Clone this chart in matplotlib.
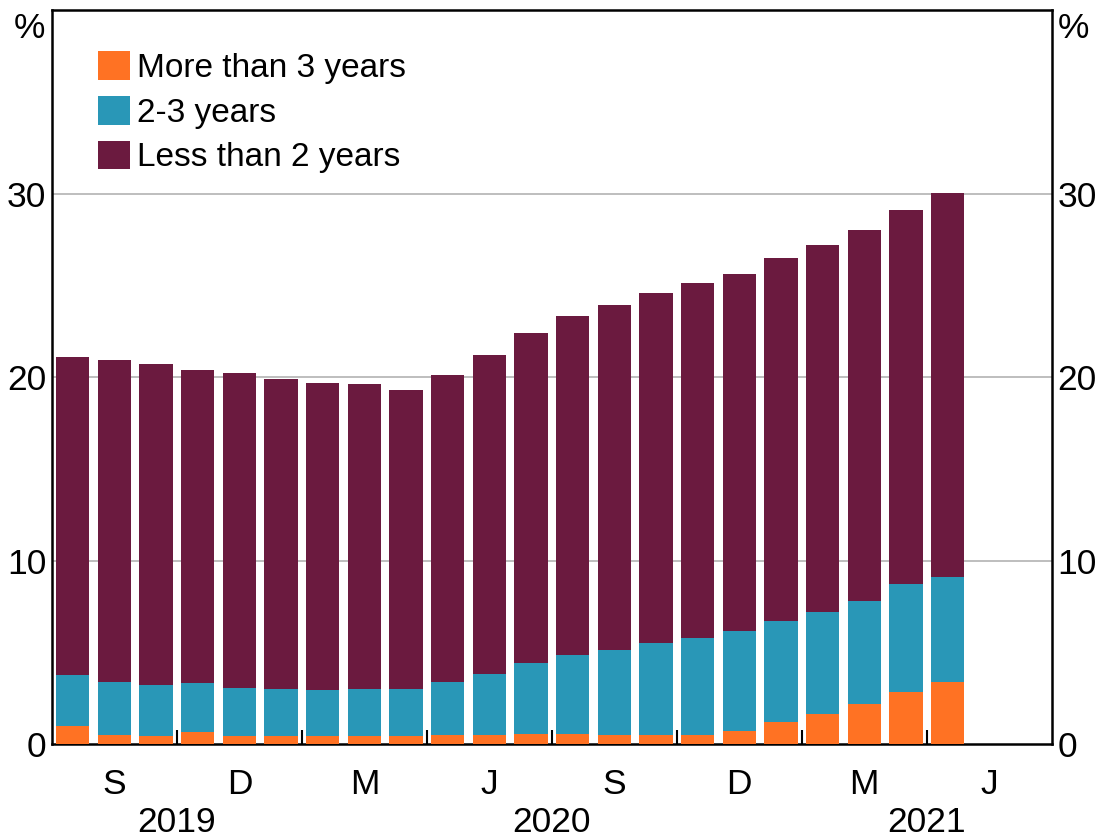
import matplotlib.pyplot as plt
import numpy as np
from matplotlib.transforms import blended_transform_factory

plt.rcParams['font.family'] = ['Liberation Sans', 'DejaVu Sans']

# monthly data, Jul 2019 to Apr 2021 (per cent)
more_than_3 = [1.0, 0.5, 0.45, 0.65, 0.45, 0.45, 0.45, 0.45, 0.45, 0.5, 0.5,
               0.55, 0.55, 0.5, 0.5, 0.5, 0.7, 1.2, 1.65, 2.2, 2.85, 3.4]
two_to_3 = [2.76, 2.88, 2.75, 2.65, 2.6, 2.55, 2.5, 2.55, 2.55, 2.88, 3.3,
            3.85, 4.3, 4.6, 5.0, 5.3, 5.45, 5.5, 5.55, 5.6, 5.85, 5.7]
less_than_2 = [17.34, 17.57, 17.5, 17.1, 17.15, 16.9, 16.75, 16.6, 16.3, 16.72, 17.4,
               18.0, 18.45, 18.85, 19.1, 19.3, 19.45, 19.8, 20.0, 20.2, 20.4, 20.95]

quarter_labels = ["S", "D", "M", "J", "S", "D", "M", "J"]
years = ["2019", "2020", "2021"]
year_centres = [2.5, 11.5, 20.5]

orange = "#FF7223"
teal = "#2997B7"
maroon = "#6B1A3F"
fs = 24      # legend
tfs = 25.5   # axis labels

fig = plt.figure(figsize=(10.99, 8.39), dpi=100)
ax = fig.add_axes([0.0473, 0.1132, 0.9097, 0.8748])

x = np.arange(len(more_than_3))
b1 = np.array(more_than_3)
b2 = b1 + np.array(two_to_3)
ax.bar(x, more_than_3, width=0.8, color=orange, label="More than 3 years", zorder=3)
ax.bar(x, two_to_3, width=0.8, bottom=b1, color=teal, label="2-3 years", zorder=3)
ax.bar(x, less_than_2, width=0.8, bottom=b2, color=maroon, label="Less than 2 years", zorder=3)

ax.set_xlim(-0.5, 23.5)
ax.set_ylim(0, 40)
ax.set_yticks([0, 10, 20, 30])
for v in [10, 20, 30]:
    ax.axhline(v, color="#b3b3b3", lw=1.2, zorder=1)

ax.tick_params(axis="y", length=0, labelsize=tfs, pad=4, labelright=True)

# quarter boundaries as ticks, quarter letters in between
ax.set_xticks(np.arange(2.5, 23, 3))
ax.set_xticklabels([])
ax.tick_params(axis="x", which="major", direction="in", length=10, width=1.5)
ax.set_xticks(np.arange(1, 24, 3), minor=True)
ax.set_xticklabels(quarter_labels, minor=True)
ax.tick_params(axis="x", which="minor", length=0, labelsize=tfs, pad=17)

trans = blended_transform_factory(ax.transData, ax.transAxes)
for yr, xc in zip(years, year_centres):
    ax.text(xc, -0.1199, yr, transform=trans, ha="center", va="baseline", fontsize=tfs)

ax.text(-0.007, 0.975, "%", transform=ax.transAxes, ha="right", va="center", fontsize=tfs)
ax.text(1.006, 0.975, "%", transform=ax.transAxes, ha="left", va="center", fontsize=tfs)

for s in ax.spines.values():
    s.set_linewidth(1.8)

ax.legend(loc="upper left", bbox_to_anchor=(0.033, 0.962), frameon=False, fontsize=fs,
          handlelength=0.94, handleheight=0.94, handletextpad=0.22, labelspacing=0.36,
          borderaxespad=0)

fig.savefig("out.png", dpi=100)
